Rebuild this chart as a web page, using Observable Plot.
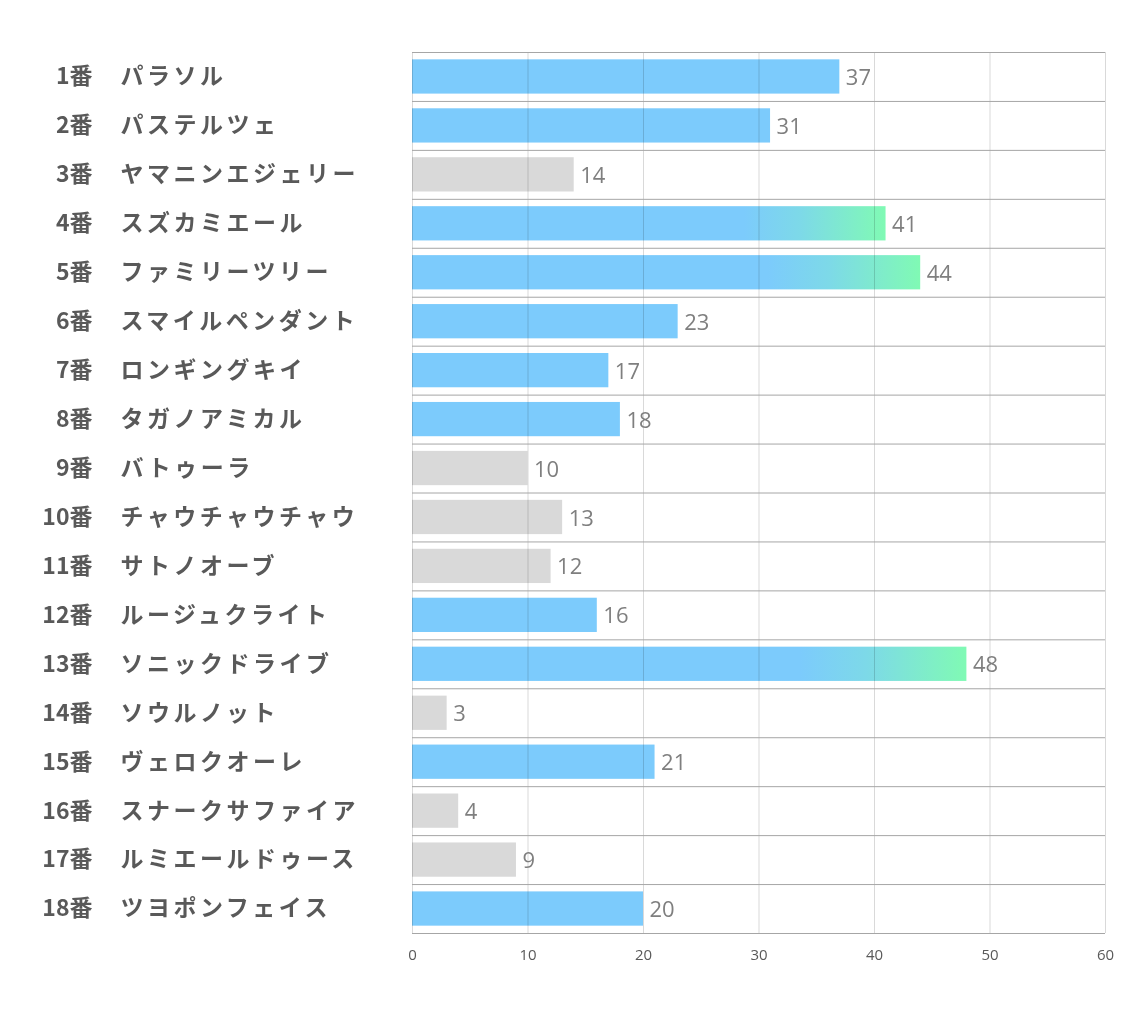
<!DOCTYPE html>
<html>
<head>
<meta charset="utf-8">
<script src="https://cdn.jsdelivr.net/npm/d3@7"></script>
<script src="https://cdn.jsdelivr.net/npm/@observablehq/plot@0.6"></script>
<style>
  body { margin: 0; background: #fff; }
  #chart svg { display: block; }
</style>
</head>
<body>
<div id="chart"></div>
<script>
const nums = ["1番","2番","3番","4番","5番","6番","7番","8番","9番","10番","11番","12番","13番","14番","15番","16番","17番","18番"];
const names = ["パラソル","パステルツェ","ヤマニンエジェリー","スズカミエール","ファミリーツリー","スマイルペンダント","ロンギングキイ","タガノアミカル","バトゥーラ","チャウチャウチャウ","サトノオーブ","ルージュクライト","ソニックドライブ","ソウルノット","ヴェロクオーレ","スナークサファイア","ルミエールドゥース","ツヨポンフェイス"];
const values = [37,31,14,41,44,23,17,18,10,13,12,16,48,3,21,4,9,20];
const groups = ["blue","blue","gray","grad","grad","blue","blue","blue","gray","gray","gray","blue","grad","gray","blue","gray","gray","blue"];
const xTicks = [0,10,20,30,40,50,60];

const data = nums.map((n, i) => ({num: n, name: names[i], value: values[i], group: groups[i]}));

const W = 1134, H = 1020, mT = 52, mB = 87, mL = 412, mR = 29;
const step = (H - mT - mB) / nums.length;
const fillFor = {blue: "#7ccbfc", gray: "#d9d9d9", grad: "url(#barGrad)"};
const jp = "'Noto Sans CJK JP', 'Noto Sans', sans-serif";

const chart = Plot.plot({
  width: W,
  height: H,
  marginTop: mT,
  marginBottom: mB,
  marginLeft: mL,
  marginRight: mR,
  style: {fontFamily: "'Open Sans', 'Noto Sans', sans-serif", background: "#fff", color: "#595959"},
  x: {domain: [0, 60], axis: null},
  y: {domain: nums, paddingInner: 0.3, paddingOuter: 0.15, round: false, axis: null},
  marks: [
    Plot.barX(data, {x: "value", y: "num", fill: d => fillFor[d.group]}),
    Plot.ruleX(xTicks, {stroke: "#d9d9d9", strokeWidth: 1, mixBlendMode: "multiply"}),
    Plot.ruleY(data, {y: "num", dy: -step / 2, stroke: "#a6a6a6", strokeWidth: 1}),
    Plot.ruleY(data.slice(-1), {y: "num", dy: step / 2, stroke: "#a6a6a6", strokeWidth: 1}),
    Plot.text(xTicks, {x: d => d, text: d => String(d), frameAnchor: "bottom", lineAnchor: "top", dy: 16, fontSize: 15, fill: "#595959"}),
    Plot.text(data, {x: "value", y: "num", text: d => String(d.value), textAnchor: "start", dx: 6, dy: 1, fontSize: 22, fill: "#7f7f7f"}),
    Plot.text(data, {y: "num", text: "num", frameAnchor: "left", textAnchor: "end", dx: 92 - mL, fontSize: 23, fontWeight: "bold", fill: "#595959", fontFamily: jp}),
    Plot.text(data, {y: "num", text: "name", frameAnchor: "left", textAnchor: "start", dx: 120 - mL, fontSize: 23, fontWeight: "bold", fill: "#595959", fontFamily: jp, className: "namelab"})
  ]
});

// gradient definition for highlighted bars
const svg = d3.select(chart);
const defs = svg.insert("defs", ":first-child");
const g = defs.append("linearGradient").attr("id", "barGrad")
  .attr("x1", "0").attr("x2", "1").attr("y1", "0").attr("y2", "0");
g.append("stop").attr("offset", "0").attr("stop-color", "#7ccbfc");
g.append("stop").attr("offset", "0.7").attr("stop-color", "#7ccbfc");
g.append("stop").attr("offset", "0.82").attr("stop-color", "#7dd9e8");
g.append("stop").attr("offset", "1").attr("stop-color", "#80fab4");

svg.selectAll(".namelab text, g.namelab text").attr("letter-spacing", "3.5px");

document.getElementById("chart").appendChild(chart);
</script>
</body>
</html>
